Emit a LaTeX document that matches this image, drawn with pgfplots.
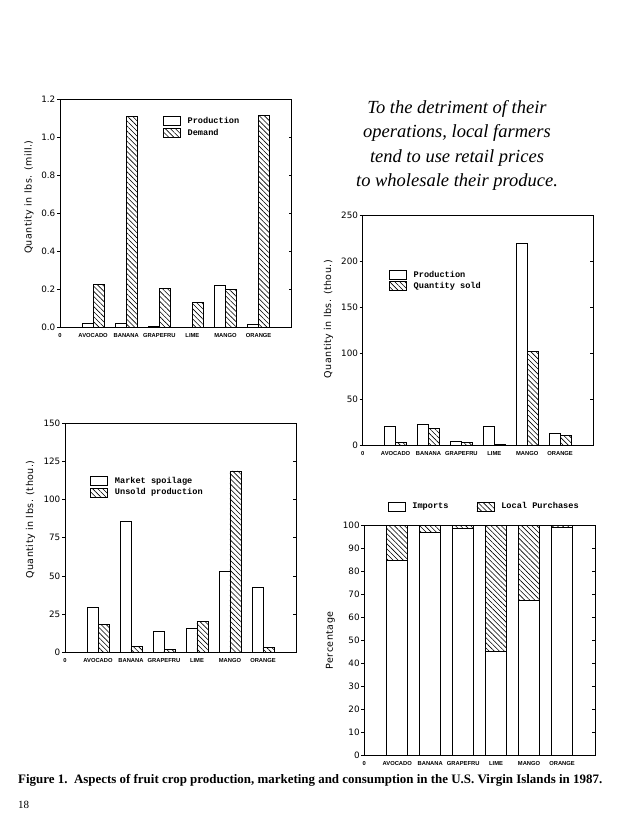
\documentclass[border=0pt]{standalone}
\usepackage{fontspec}
\usepackage{graphicx}
\usepackage{pgfplots}
\pgfplotsset{compat=1.18}
\usetikzlibrary{patterns.meta}
\setmainfont{Liberation Serif}
\newfontfamily\axisfont{DejaVu Sans}
\newfontfamily\catfont{Liberation Sans}
\newfontfamily\legfont{Liberation Mono}

\tikzset{hatch/.style={pattern={Lines[angle=-45,distance=3.6pt,line width=0.6pt]}}}

\pgfplotsset{
  boxlegend/.style={legend image code/.code={\draw[##1, line width=0.8pt, bar shift=0pt] (0pt,-4.5pt) rectangle (17pt,4.5pt);}},
  ybar legend/.style={boxlegend},
  panel/.style={
    scale only axis, anchor=south west,
    xmin=0, xmax=7, ymin=0,
    axis line style={line width=0.8pt},
    tick style={line width=0.6pt, black},
    major tick length=3pt,
    tick align=outside,
    ytick pos=left,
    xtick={0,...,6},
    xticklabels={0,AVOCADO,BANANA,GRAPEFRU,LIME,MANGO,ORANGE},
    x tick style={draw=none},
    xticklabel style={font=\catfont\bfseries\fontsize{5.8}{6}\selectfont, inner sep=1pt, yshift=-2pt},
    yticklabel style={font=\axisfont\fontsize{8.8}{10}\selectfont, inner sep=1.5pt},
    /pgf/number format/assume math mode=true,
    ylabel style={font=\axisfont\fontsize{9.5}{11}\selectfont\addfontfeatures{LetterSpace=5}, anchor=center},
    legend style={draw=none, fill=none, inner sep=0pt, anchor=north west,
      font=\legfont\bfseries\fontsize{8.6}{10}\selectfont, row sep=0pt,
      /tikz/every odd column/.append style={column sep=5pt}},
    legend cell align=left,
  },
  mirror/.style={
    scale only axis, anchor=south west,
    xmin=0, xmax=7, ymin=0,
    hide x axis, axis y line*=right,
    axis line style={draw=none},
    tick style={line width=0.6pt, black},
    major tick length=3pt, tick align=inside,
    yticklabels={},
  },
  bars/.style={ybar, bar width=1/3},
}

\begin{document}
\begin{tikzpicture}[x=1pt,y=1pt]
\path[use as bounding box] (0,0) rectangle (630,834);

% top left: production vs demand
\begin{axis}[panel, bars, at={(60pt,506.7pt)}, width=231.7pt, height=228.3pt,
  ymax=1.2, ytick={0,0.2,...,1.2},
  yticklabel style={/pgf/number format/.cd, fixed, fixed zerofill, precision=1},
  ylabel={Quantity in lbs. (mill.)},
  ylabel style={at={(axis description cs:-0.134,0.57)}},
  legend style={at={(rel axis cs:0.443,0.93)}}]
\addplot[draw=black, fill=white, line width=0.8pt, bar shift=-1/6] coordinates {
  (1,0.019) (2,0.021) (3,0.004) (4,0.002) (5,0.221) (6,0.015)};
\addplot[draw=black, hatch, line width=0.8pt, bar shift=1/6] coordinates {
  (1,0.223) (2,1.107) (3,0.205) (4,0.130) (5,0.200) (6,1.113)};
\legend{Production, Demand}
\end{axis}
\begin{axis}[mirror, at={(60pt,506.7pt)}, width=231.7pt, height=228.3pt, ymax=1.2, ytick={0,0.2,...,1.2}]
\end{axis}

% top right: production vs quantity sold
\begin{axis}[panel, bars, at={(362.7pt,388.3pt)}, width=230.3pt, height=230pt,
  ymax=250, ytick={0,50,...,250},
  ylabel={Quantity in lbs. (thou.)},
  ylabel style={at={(axis description cs:-0.148,0.55)}},
  legend style={at={(rel axis cs:0.113,0.77)}}]
\addplot[draw=black, fill=white, line width=0.8pt, bar shift=-1/6] coordinates {
  (1,20.8) (2,22.8) (3,4.6) (4,20.8) (5,219.5) (6,13.0)};
\addplot[draw=black, hatch, line width=0.8pt, bar shift=1/6] coordinates {
  (1,3.5) (2,19.2) (3,3.6) (4,1.3) (5,102) (6,10.9)};
\legend{Production, Quantity sold}
\end{axis}
\begin{axis}[mirror, at={(362.7pt,388.3pt)}, width=230.3pt, height=230pt, ymax=250, ytick={0,50,...,250}]
\end{axis}

% bottom left: spoilage vs unsold production
\begin{axis}[panel, bars, at={(65pt,181.7pt)}, width=231pt, height=229pt,
  ymax=150, ytick={0,25,...,150},
  ylabel={Quantity in lbs. (thou.)},
  ylabel style={at={(axis description cs:-0.149,0.58)}},
  legend style={at={(rel axis cs:0.108,0.775)}}]
\addplot[draw=black, fill=white, line width=0.8pt, bar shift=-1/6] coordinates {
  (1,29.3) (2,86.0) (3,13.8) (4,15.6) (5,53.2) (6,42.5)};
\addplot[draw=black, hatch, line width=0.8pt, bar shift=1/6] coordinates {
  (1,18.2) (2,3.9) (3,1.8) (4,20.2) (5,118.8) (6,3.4)};
\legend{Market spoilage, Unsold production}
\end{axis}
\begin{axis}[mirror, at={(65pt,181.7pt)}, width=231pt, height=229pt, ymax=150, ytick={0,25,...,150}]
\end{axis}

% bottom right: imports vs local purchases (percent)
\begin{axis}[panel, ybar stacked, bar width=0.64, at={(364.3pt,79pt)}, width=230.7pt, height=229.3pt,
  ymax=100, ytick={0,10,...,100},
  ylabel={Percentage},
  ylabel style={at={(axis description cs:-0.147,0.5)}},
  legend columns=2,
  legend style={at={(rel axis cs:0.1,1)}, anchor=south west, yshift=13pt,
    /tikz/every even column/.append style={column sep=26pt}}]
\addplot[draw=black, fill=white, line width=0.8pt, boxlegend] coordinates {
  (1,85.0) (2,97.2) (3,99.0) (4,45.2) (5,67.3) (6,99.3)};
\addplot[draw=black, hatch, line width=0.8pt, boxlegend] coordinates {
  (1,15.0) (2,2.8) (3,1.0) (4,54.8) (5,32.7) (6,0.7)};
\legend{Imports, Local Purchases}
\end{axis}
\begin{axis}[mirror, at={(364.3pt,79pt)}, width=230.7pt, height=229.3pt, ymax=100, ytick={0,10,...,100}]
\end{axis}

% quote
\begin{scope}[every node/.style={anchor=base, inner sep=0pt, font=\itshape\fontsize{18.5}{24}\selectfont}]
\node at (457,720.7) {To the detriment of their};
\node at (457,696.2) {operations, local farmers};
\node at (457,671.8) {tend to use retail prices};
\node at (457,647.3) {to wholesale their produce.};
\end{scope}

% caption and page number
\node[anchor=base west, inner sep=0pt] at (18,50) {\resizebox{584pt}{!}{\bfseries\fontsize{12.5}{14}\selectfont Figure 1.\ \ Aspects of fruit crop production, marketing and consumption in the U.S. Virgin Islands in 1987.}};
\node[anchor=base west, inner sep=0pt, font=\fontsize{11}{13}\selectfont] at (18,25) {18};
\end{tikzpicture}
\end{document}
